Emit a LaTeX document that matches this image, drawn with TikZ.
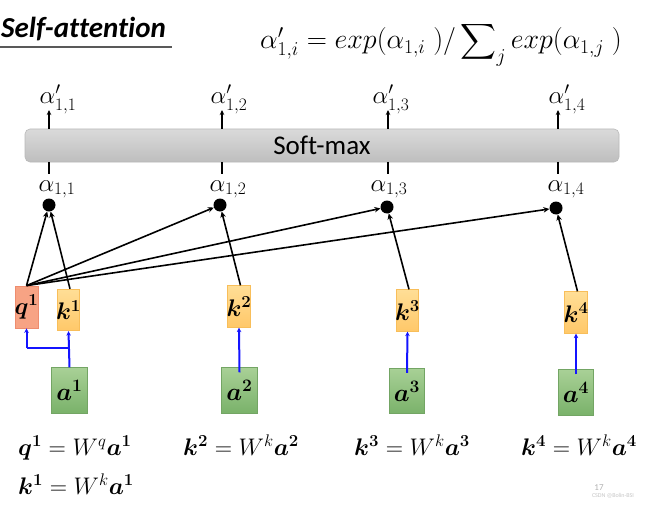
\RequirePackage{fix-cm}
\documentclass[tikz,border=0pt]{standalone}
\usepackage{amsmath}
\usepackage{bm}
\usepackage{fontspec}
\newfontfamily\calibri[Ligatures=NoCommon]{Carlito}
\usetikzlibrary{arrows.meta}
\definecolor{qfill}{RGB}{247,163,132}
\definecolor{qdraw}{RGB}{238,140,110}
\definecolor{ktop}{RGB}{255,222,150}
\definecolor{kbot}{RGB}{255,200,105}
\definecolor{kdraw}{RGB}{248,190,90}
\definecolor{atop}{RGB}{168,208,150}
\definecolor{abot}{RGB}{122,178,106}
\definecolor{adraw}{RGB}{115,165,100}
\definecolor{bartop}{RGB}{218,218,218}
\definecolor{barbot}{RGB}{190,190,190}
\definecolor{bardraw}{RGB}{185,185,185}
\definecolor{myblue}{RGB}{20,20,255}
\tikzset{
  qbox/.style={draw=qdraw, fill=qfill, line width=0.8pt, minimum width=23pt, minimum height=42pt, inner sep=0pt},
  kbox/.style={draw=kdraw, top color=ktop, bottom color=kbot, line width=0.8pt, minimum width=22.5pt, minimum height=41.5pt, inner sep=0pt},
  abox/.style={draw=adraw, top color=atop, bottom color=abot, line width=0.8pt, minimum width=35.5pt, minimum height=45.5pt, inner sep=0pt},
  boxtxt/.style={font=\fontsize{24}{27}\selectfont, inner sep=0pt},
  atxt/.style={font=\fontsize{25}{29}\selectfont, inner sep=0pt},
  dot/.style={circle, fill=black, minimum size=13pt, inner sep=0pt},
  conn/.style={draw, line width=1.6pt, -{Stealth[length=6pt,width=5.5pt]}},
  uparr/.style={draw, line width=1.4pt, -{Stealth[length=5pt,width=4.5pt]}},
  plainln/.style={draw, line width=1.4pt},
  bl/.style={draw=myblue, line width=2pt, -{Stealth[length=4.5pt,width=4.5pt]}},
  bln/.style={draw=myblue, line width=2pt},
  lab/.style={font=\fontsize{25}{29}\selectfont, inner sep=0pt},
  eq/.style={font=\fontsize{24}{28}\selectfont, inner sep=0pt, anchor=base west},
}
\begin{document}
\begin{tikzpicture}[x=1pt,y=-1pt]
\useasboundingbox (0,0) rectangle (652,505);
\fill[white] (0,0) rectangle (652,505);

% title
\node[anchor=base west, inner sep=0pt, font=\fontsize{29}{34}\selectfont\calibri\bfseries\itshape] (title) at (1,38) {Self-attention};
\draw[line width=1.2pt, draw=black!65] (0,47) -- (172,47);

% formula
\node[anchor=base west, inner sep=0pt, font=\fontsize{28}{33}\selectfont] (formula) at (260,49)
  {$\alpha'_{1,i}=exp(\alpha_{1,i}\;)/\displaystyle\sum\nolimits_j exp(\alpha_{1,j}\;)$};

% soft-max bar
\node[draw=bardraw, top color=bartop, bottom color=barbot, rounded corners=5pt, line width=0.6pt,
      minimum width=594pt, minimum height=33pt, inner sep=0pt,
      font=\fontsize{27}{32}\selectfont\calibri] (bar) at (322,145.5) {Soft-max};

% top labels and arrows
\foreach \i/\x/\c in {1/49/58, 2/222/229, 3/388/391, 4/558/567} {
  \coordinate (t\i) at (\x,110);
  \draw[uparr] (bar.north -| t\i) -- (t\i);
  \node[lab, anchor=base] (ap\i) at (\c,104) {$\alpha'_{1,\i}$};
}

% dots and labels below bar
\node[dot] (d1) at (49,205) {};
\node[dot] (d2) at (220,205) {};
\node[dot] (d3) at (387,207) {};
\node[dot] (d4) at (556,208) {};
\foreach \i/\x/\c in {1/49/57, 2/222/228, 3/388/389, 4/558/566} {
  \coordinate (b\i) at (\x,174);
  \draw[plainln] (bar.south -| b\i) -- (b\i);
  \node[lab, anchor=base] (al\i) at (\c,191) {$\alpha_{1,\i}$};
}

% q, k boxes
\node[qbox] (q1) at (26.5,307) {};
\node[boxtxt] (q1t) at (q1.center) {$\bm{q^1}$};
\node[kbox] (k1) at (68.5,310) {};
\node[boxtxt] (k1t) at (k1.center) {$\bm{k^1}$};
\node[kbox] (k2) at (239,306.5) {};
\node[boxtxt] (k2t) at (k2.center) {$\bm{k^2}$};
\node[kbox] (k3) at (407.5,310.5) {};
\node[boxtxt] (k3t) at (k3.center) {$\bm{k^3}$};
\node[kbox] (k4) at (576,312.5) {};
\node[boxtxt] (k4t) at (k4.center) {$\bm{k^4}$};

% a boxes
\node[abox] (a1) at (69.5,390.5) {};
\node[atxt] (a1t) at (a1.center) {$\bm{a^1}$};
\node[abox] (a2) at (239.5,390.5) {};
\node[atxt] (a2t) at (a2.center) {$\bm{a^2}$};
\node[abox] (a3) at (407,391) {};
\node[atxt] (a3t) at (a3.center) {$\bm{a^3}$};
\node[abox] (a4) at (576,392.5) {};
\node[atxt] (a4t) at (a4.center) {$\bm{a^4}$};

% blue arrows
\coordinate (br) at (69,348);
\draw[bl] (a1.north) -- (k1.south);
\draw[bln] (br) -- (br -| q1.south);
\draw[bl] (br -| q1.south) -- (q1.south);
\draw[bl] ([yshift=-5pt]a2.north) -- (k2.south);
\draw[bl] ([yshift=-5pt]a3.north) -- (k3.south);
\draw[bl] ([yshift=-5pt]a4.north) -- (k4.south);

% black connectors
\draw[conn] (q1.north) -- (d1);
\draw[conn] ([xshift=1.5pt]k1.north) -- (d1);
\draw[conn] (q1.north) -- (d2);
\draw[conn] (q1.north) -- (d3);
\draw[conn] (q1.north) -- (d4);
\draw[conn] ([xshift=1.5pt]k2.north) -- (d2);
\draw[conn] ([xshift=1.5pt]k3.north) -- (d3);
\draw[conn] ([xshift=1.5pt]k4.north) -- (d4);

% equations
\node[eq] (e1) at (18,455) {$\bm{q^1} = W^q\bm{a^1}$};
\node[eq] (e2) at (183,455) {$\bm{k^2} = W^k\bm{a^2}$};
\node[eq] (e3) at (354,455) {$\bm{k^3} = W^k\bm{a^3}$};
\node[eq] (e4) at (521,455) {$\bm{k^4} = W^k\bm{a^4}$};
\node[eq] (e5) at (18,494) {$\bm{k^1} = W^k\bm{a^1}$};

% watermark / page number
\node[text=gray!45, inner sep=0pt, font=\fontsize{6}{7}\selectfont\calibri] (wm) at (613,496) {CSDN @Bolin-BSI};
\node[text=gray!60, inner sep=0pt, font=\fontsize{9}{10}\selectfont\calibri] (pg) at (599,488) {17};
\end{tikzpicture}
\end{document}
